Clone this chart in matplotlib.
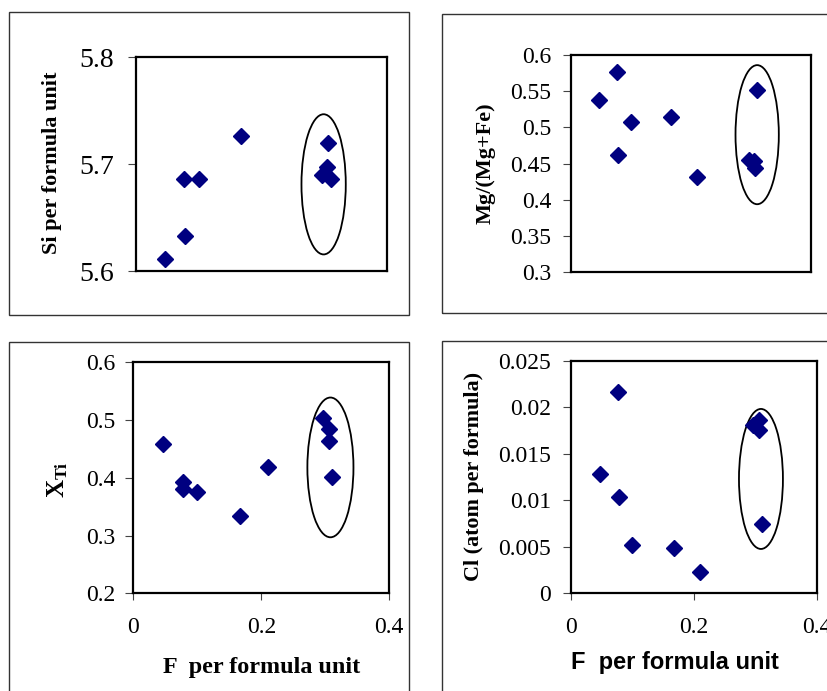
import numpy as np
import matplotlib
matplotlib.use("Agg")
import matplotlib.pyplot as plt
from matplotlib.patches import Ellipse, Rectangle

# ---------------- data ----------------
F_per_formula = [0.047, 0.077, 0.078, 0.100, 0.167, 0.210, 0.296, 0.305, 0.306, 0.310]
Si_pfu = [5.611, 5.686, 5.633, 5.686, 5.726, np.nan, 5.690, 5.697, 5.720, 5.686]
Mg_ratio = [0.538, 0.576, 0.462, 0.508, 0.515, 0.432, 0.455, 0.453, 0.444, 0.551]
X_Ti = [0.4585, 0.393, 0.380, 0.376, 0.334, 0.418, 0.503, 0.484, 0.464, 0.402]
Cl_apf = [0.0128, 0.0216, 0.0104, 0.0052, 0.0049, 0.0023, 0.0181, 0.0176, 0.0186, 0.00745]

# ellipse annotations: (centre x, centre y, width, height)
ell_si = (0.299, 5.681, 0.0706, 0.131)
ell_mg = (0.310, 0.490, 0.072, 0.192)
ell_ti = (0.308, 0.418, 0.072, 0.242)
ell_cl = (0.3086, 0.01229, 0.0713, 0.01505)

si_ticks = [5.6, 5.7, 5.8]
si_ticklabels = ["5.6", "5.7", "5.8"]
mg_ticks = [0.3, 0.35, 0.4, 0.45, 0.5, 0.55, 0.6]
mg_ticklabels = ["0.3", "0.35", "0.4", "0.45", "0.5", "0.55", "0.6"]
ti_ticks = [0.2, 0.3, 0.4, 0.5, 0.6]
ti_ticklabels = ["0.2", "0.3", "0.4", "0.5", "0.6"]
cl_ticks = [0, 0.005, 0.01, 0.015, 0.02, 0.025]
cl_ticklabels = ["0", "0.005", "0.01", "0.015", "0.02", "0.025"]
x_ticks = [0, 0.2, 0.4]
x_ticklabels = ["0", "0.2", "0.4"]

# ---------------- style ----------------
plt.rcParams['font.family'] = ['Liberation Serif', 'DejaVu Serif']
plt.rcParams['mathtext.fontset'] = 'custom'
plt.rcParams['mathtext.rm'] = 'Liberation Serif'
plt.rcParams['mathtext.bf'] = 'Liberation Serif:bold'
plt.rcParams['mathtext.it'] = 'Liberation Serif:italic'

W, H = 828, 691
fig = plt.figure(figsize=(W / 100, H / 100), dpi=100)

def px_axes(l, r, t, b):
    return fig.add_axes([l / W, 1 - b / H, (r - l) / W, (b - t) / H])

# panel frames (pixels: left, top, right, bottom)
frames = [(9, 12, 409, 315), (441.7, 14.3, 860, 313.3),
          (9, 342.3, 409.3, 720), (441.7, 340.7, 860, 720)]
for (l, t, r, b) in frames:
    fig.patches.append(Rectangle((l / W, 1 - b / H), (r - l) / W, (b - t) / H,
                                 transform=fig.transFigure, fill=False,
                                 edgecolor='#333333', linewidth=1.0, zorder=0))

navy = '#000080'
MS = 8

def style(ax, yticks, ylabels, ylim, fs, ypad, show_x):
    ax.set_xlim(0, 0.4)
    ax.set_ylim(*ylim)
    for s in ax.spines.values():
        s.set_linewidth(1.6)
        s.set_color('black')
    ax.set_yticks(yticks)
    ax.set_yticklabels(ylabels, fontsize=fs)
    ax.tick_params(axis='y', direction='out', length=6, width=0.8,
                   color='#444444', pad=ypad)
    if show_x:
        ax.set_xticks(x_ticks)
        ax.set_xticklabels(x_ticklabels, fontsize=fs)
        ax.tick_params(axis='x', direction='out', length=5, width=0.8,
                       color='#444444', pad=12)
    else:
        ax.set_xticks([])

def add_ell(ax, e):
    ax.add_patch(Ellipse((e[0], e[1]), e[2], e[3], fill=False,
                         edgecolor='black', linewidth=1.3, zorder=3))

F = np.array(F_per_formula)

# Panel 1: Si
ax1 = px_axes(136, 387, 57, 271)
ax1.plot(F, Si_pfu, 'D', color=navy, markersize=MS, linestyle='none', zorder=4)
style(ax1, si_ticks, si_ticklabels, (5.6, 5.8), 20, 10, False)
add_ell(ax1, ell_si)
fig.text(52 / W, 1 - 163 / H, "Si per formula unit", rotation=90, fontsize=16,
         fontweight='bold', ha='center', va='center')

# Panel 2: Mg/(Mg+Fe)
ax2 = px_axes(570.7, 811.3, 55, 272.3)
ax2.plot(F, Mg_ratio, 'D', color=navy, markersize=MS, linestyle='none', zorder=4)
style(ax2, mg_ticks, mg_ticklabels, (0.3, 0.6), 17, 8, False)
add_ell(ax2, ell_mg)
fig.text(486 / W, 1 - 163 / H, "Mg/(Mg+Fe)", rotation=90, fontsize=16,
         fontweight='bold', ha='center', va='center')

# Panel 3: X_Ti
ax3 = px_axes(133.3, 389.3, 362.3, 593.3)
ax3.plot(F, X_Ti, 'D', color=navy, markersize=MS, linestyle='none', zorder=4)
style(ax3, ti_ticks, ti_ticklabels, (0.2, 0.6), 17, 7, True)
add_ell(ax3, ell_ti)
fig.text(58 / W, 1 - 480 / H, r"$\mathbf{X}_{\mathbf{Ti}}$", rotation=90, fontsize=18,
         ha='center', va='center')
fig.text(262 / W, 1 - 667 / H, "F  per formula unit", fontsize=17.4,
         fontweight='bold', ha='center', va='center')

# Panel 4: Cl
ax4 = px_axes(570.7, 817.3, 360.7, 593.3)
ax4.plot(F, Cl_apf, 'D', color=navy, markersize=MS, linestyle='none', zorder=4)
style(ax4, cl_ticks, cl_ticklabels, (0, 0.025), 17, 8, True)
add_ell(ax4, ell_cl)
fig.text(474 / W, 1 - 476 / H, "Cl (atom per formula)", rotation=90, fontsize=15.9,
         fontweight='bold', ha='center', va='center')
fig.text(675 / W, 1 - 662 / H, "F  per formula unit", fontsize=17,
         fontweight='bold', ha='center', va='center',
         family=['Liberation Sans', 'DejaVu Sans'])

fig.savefig("out.png", dpi=100)
